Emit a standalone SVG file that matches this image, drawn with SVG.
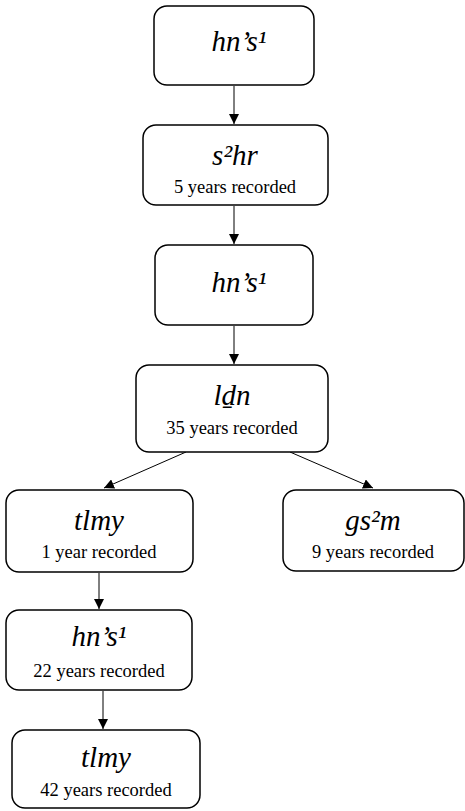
<svg xmlns="http://www.w3.org/2000/svg" width="465" height="811" viewBox="0 0 465 811">
<defs>
<marker id="ah" viewBox="0 0 10 10" refX="10" refY="5" markerWidth="10" markerHeight="10" markerUnits="userSpaceOnUse" orient="auto">
<path d="M0,0 L10,5 L0,10 z" fill="#000"/>
</marker>
</defs>
<g id="connectors" stroke="#000" stroke-width="1" fill="none">
<line marker-end="url(#ah)" x1="234" y1="86" x2="234" y2="124"/>
<line marker-end="url(#ah)" x1="234" y1="206" x2="234" y2="244"/>
<line marker-end="url(#ah)" x1="234" y1="326" x2="234" y2="364"/>
<line marker-end="url(#ah)" x1="186" y1="452" x2="104" y2="488"/>
<line marker-end="url(#ah)" x1="290" y1="452" x2="373" y2="488"/>
<line marker-end="url(#ah)" x1="99" y1="573" x2="99" y2="609"/>
<line marker-end="url(#ah)" x1="103" y1="691" x2="103" y2="729"/>
</g>
<g id="n1">
<rect x="154" y="6" width="160" height="79" rx="13" fill="#fff" stroke="#000" stroke-width="1.5"/>
<text font-family="Liberation Serif" font-style="italic" font-size="29" text-anchor="middle" x="239" y="51">hn’s¹</text>
</g>
<g id="n2">
<rect x="143" y="125" width="185" height="80" rx="13" fill="#fff" stroke="#000" stroke-width="1.5"/>
<text font-family="Liberation Serif" font-style="italic" font-size="29" text-anchor="middle" x="235" y="165">s²hr</text>
<text font-family="Liberation Serif" font-size="18.5" text-anchor="middle" x="235" y="193">5 years recorded</text>
</g>
<g id="n3">
<rect x="155" y="245" width="158" height="80" rx="13" fill="#fff" stroke="#000" stroke-width="1.5"/>
<text font-family="Liberation Serif" font-style="italic" font-size="29" text-anchor="middle" x="239" y="292">hn’s¹</text>
</g>
<g id="n4">
<rect x="136" y="365" width="192" height="87" rx="13" fill="#fff" stroke="#000" stroke-width="1.5"/>
<text font-family="Liberation Serif" font-style="italic" font-size="29" text-anchor="middle" x="232" y="405">lḏn</text>
<text font-family="Liberation Serif" font-size="18.5" text-anchor="middle" x="232" y="434">35 years recorded</text>
</g>
<g id="n5">
<rect x="6" y="490" width="187" height="82" rx="13" fill="#fff" stroke="#000" stroke-width="1.5"/>
<text font-family="Liberation Serif" font-style="italic" font-size="29" text-anchor="middle" x="99" y="530">tlmy</text>
<text font-family="Liberation Serif" font-size="18.5" text-anchor="middle" x="99" y="558">1 year recorded</text>
</g>
<g id="n6">
<rect x="283" y="490" width="181" height="81" rx="13" fill="#fff" stroke="#000" stroke-width="1.5"/>
<text font-family="Liberation Serif" font-style="italic" font-size="29" text-anchor="middle" x="373" y="530">gs²m</text>
<text font-family="Liberation Serif" font-size="18.5" text-anchor="middle" x="373" y="558">9 years recorded</text>
</g>
<g id="n7">
<rect x="6" y="610" width="186" height="80" rx="13" fill="#fff" stroke="#000" stroke-width="1.5"/>
<text font-family="Liberation Serif" font-style="italic" font-size="29" text-anchor="middle" x="99" y="646">hn’s¹</text>
<text font-family="Liberation Serif" font-size="18.5" text-anchor="middle" x="99" y="677">22 years recorded</text>
</g>
<g id="n8">
<rect x="12" y="730" width="188" height="78" rx="13" fill="#fff" stroke="#000" stroke-width="1.5"/>
<text font-family="Liberation Serif" font-style="italic" font-size="29" text-anchor="middle" x="106" y="767">tlmy</text>
<text font-family="Liberation Serif" font-size="18.5" text-anchor="middle" x="106" y="796">42 years recorded</text>
</g>
</svg>
